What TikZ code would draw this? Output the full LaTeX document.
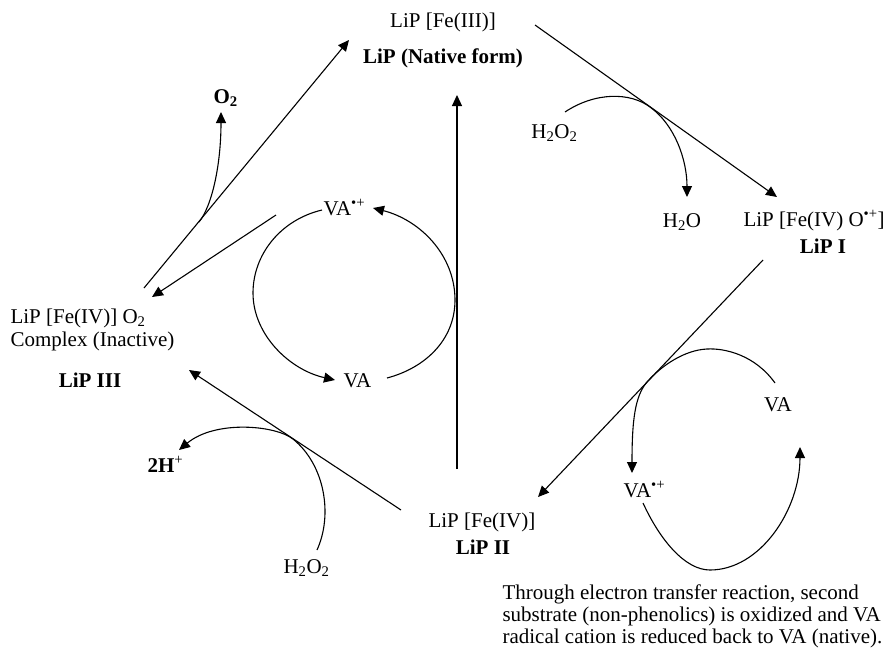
\documentclass[tikz,border=0pt]{standalone}
\usepackage{fontspec}
\setmainfont{Liberation Serif}
\usetikzlibrary{arrows.meta}
\begin{document}
\begin{tikzpicture}[x=1pt, y=-1pt, line width=1.1pt,
    font=\fontsize{21}{22}\selectfont,
    lbl/.style={inner sep=0pt},
    rxn/.style={-{Triangle[length=11pt,width=10pt]}}]
\useasboundingbox (0,0) rectangle (889,649);
% enzyme states
\node[lbl, anchor=base] (native) at (443,27) {LiP [Fe(III)]};
\node[lbl, anchor=base] (nativename) at (443,63) {\textbf{LiP (Native form)}};
\node[lbl, anchor=base west] (lipI) at (743,226) {LiP [Fe(IV) O\textsuperscript{\textbullet+}]};
\node[lbl, anchor=base] (lipIname) at (823,253) {\textbf{LiP I}};
\node[lbl, anchor=base west] (lipII) at (428,527) {LiP [Fe(IV)]};
\node[lbl, anchor=base] (lipIIname) at (483,554) {\textbf{LiP II}};
\node[lbl, anchor=base west] (lipIII) at (10,323) {LiP [Fe(IV)] O\textsubscript{2}};
\node[lbl, anchor=base west] (lipIIIdesc) at (10,346) {Complex (Inactive)};
\node[lbl, anchor=base] (lipIIIname) at (90,387) {\textbf{LiP III}};
% co-substrates and products
\node[lbl, anchor=base east] (peroxA) at (578,138) {H\textsubscript{2}O\textsubscript{2}};
\node[lbl, anchor=base] (water) at (682,227) {H\textsubscript{2}O};
\node[lbl, anchor=base west] (peroxB) at (283,573) {H\textsubscript{2}O\textsubscript{2}};
\node[lbl, anchor=base west] (protons) at (147,472) {\textbf{2H}\textsuperscript{+}};
\node[lbl, anchor=base west] (oxygen) at (213,103) {\textbf{O\textsubscript{2}}};
\node[lbl, anchor=base west] (vacatA) at (323,215) {VA\textsuperscript{\textbullet+}};
\node[lbl, anchor=base west] (vaA) at (343,387) {VA};
\node[lbl, anchor=base] (vaB) at (778,411) {VA};
\node[lbl, anchor=base west] (vacatB) at (623,497) {VA\textsuperscript{\textbullet+}};
\node[lbl, anchor=base west, align=left] (note) at (502,643)
    {Through electron transfer reaction, second\\
     substrate (non-phenolics) is oxidized and VA\\
     radical cation is reduced back to VA (native).};
% arrow ends
\coordinate (nativeout) at (535,25);  \coordinate (lipIin) at (777,197);
\coordinate (lipIout) at (763,260);   \coordinate (lipIIin) at (538,497);
\coordinate (lipIIup) at (457,469);   \coordinate (nativein) at (457,95);
\coordinate (lipIIout) at (401,510);  \coordinate (lipIIIin) at (189,370);
\coordinate (vaback) at (276,215);    \coordinate (lipIIIback) at (152,297);
\coordinate (lipIIIout) at (144,288); \coordinate (nativeback) at (349,40);
% main cycle
\draw[rxn] (nativeout) -- (lipIin);
\draw[rxn] (lipIout) -- (lipIIin);
\draw[rxn] (lipIIup) -- (nativein);
\draw[rxn] (lipIIout) -- (lipIIIin);
\draw[rxn] (vaback) -- (lipIIIback);
\draw[rxn] (lipIIIout) -- (nativeback);
% side reactions
\draw[rxn] (565,112) .. controls (595,92) and (630,92) .. (650,107)
    .. controls (675,125) and (687,160) .. (687,197);
\draw[rxn] (199,222) .. controls (212,206) and (221,165) .. (221,112);
\draw[rxn] (317,550) .. controls (333,515) and (325,465) .. (293,439)
    .. controls (275,425) and (215,420) .. (179,450);
% VA redox loops
\draw[rxn] (322,210) .. controls (280,220) and (253,255) .. (253,293)
    .. controls (253,335) and (290,370) .. (335,380);
\draw[rxn] (387,378) .. controls (425,368) and (455,340) .. (455,300)
    .. controls (455,255) and (420,220) .. (373,208);
\draw[rxn] (775,383) .. controls (755,355) and (725,348) .. (707,349)
    .. controls (685,350) and (662,365) .. (647,382)
    .. controls (635,396) and (632,420) .. (632,473);
\draw[rxn] (643,503) .. controls (660,540) and (685,570) .. (710,570)
    .. controls (760,570) and (800,510) .. (800,447);
\end{tikzpicture}
\end{document}
